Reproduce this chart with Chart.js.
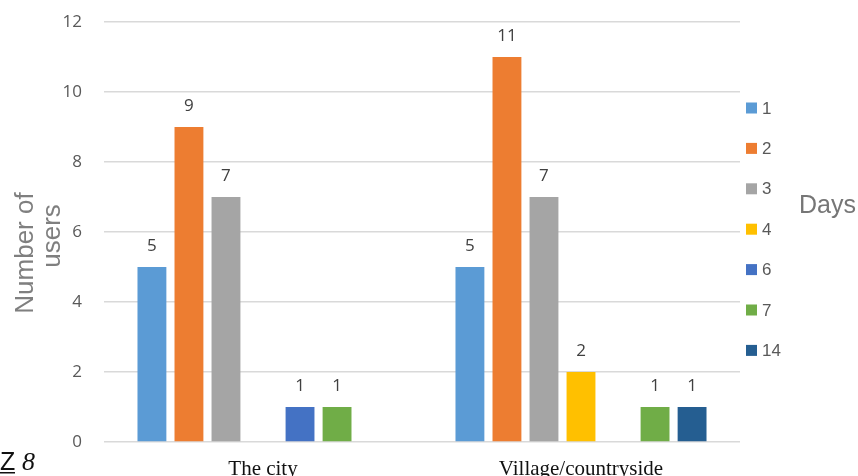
<!DOCTYPE html>
<html>
<head>
<meta charset="utf-8">
<script src="https://cdn.jsdelivr.net/npm/chart.js@4.4.0/dist/chart.umd.min.js"></script>
<style>
  html, body { margin: 0; padding: 0; background: #fff; }
  #wrap { width: 858px; height: 476px; position: relative; }
</style>
</head>
<body>
<div id="wrap"><canvas id="usersChart"></canvas></div>
<script>
// place of residence on the x axis, one series per number of days
const places = ['The city', 'Village/countryside'];
const dayLabels = ['1', '2', '3', '4', '6', '7', '14'];
const day1 = [5, 5];
const day2 = [9, 11];
const day3 = [7, 7];
const day4 = [null, 2];
const day6 = [1, null];
const day7 = [1, 1];
const day14 = [null, 1];
const yTicks = [0, 2, 4, 6, 8, 10, 12];

const dayColors = ['#5B9BD5', '#ED7D31', '#A5A5A5', '#FFC000', '#4472C4', '#70AD47', '#255E91'];
const series = [day1, day2, day3, day4, day6, day7, day14];

const datasets = series.map((values, i) => ({
    label: dayLabels[i],
    data: values,
    backgroundColor: dayColors[i],
    borderWidth: 0,
    categoryPercentage: 0.815,
    barPercentage: 0.78
}));

// value above every bar
const barValues = {
    id: 'barValues',
    afterDatasetsDraw(chart) {
        const ctx = chart.ctx;
        ctx.save();
        ctx.font = '17px "Open Sans"';
        ctx.fillStyle = '#404040';
        ctx.textAlign = 'center';
        ctx.textBaseline = 'middle';
        chart.data.datasets.forEach((ds, i) => {
            chart.getDatasetMeta(i).data.forEach((bar, j) => {
                if (ds.data[j] == null) return;
                ctx.fillText(String(ds.data[j]), bar.x, bar.y - 21);
            });
        });
        ctx.restore();
    }
};

// axis title, legend and the side captions
const decorations = {
    id: 'decorations',
    afterDraw(chart) {
        const ctx = chart.ctx;
        ctx.save();

        // y axis title, two rotated lines
        ctx.fillStyle = '#7f7f7f';
        ctx.font = '26px "Liberation Sans"';
        ctx.textAlign = 'center';
        ctx.textBaseline = 'alphabetic';
        ctx.save();
        ctx.translate(33, 253);
        ctx.rotate(-Math.PI / 2);
        ctx.fillText('Number of', 0, 0);
        ctx.restore();
        ctx.save();
        ctx.translate(60, 236);
        ctx.rotate(-Math.PI / 2);
        ctx.fillText('users', 0, 0);
        ctx.restore();

        // legend
        ctx.font = '17px "Liberation Sans"';
        ctx.textAlign = 'left';
        ctx.textBaseline = 'middle';
        dayLabels.forEach((lbl, i) => {
            const cy = 108 + i * 40.4;
            ctx.fillStyle = dayColors[i];
            ctx.fillRect(746, cy - 5.5, 11, 11);
            ctx.fillStyle = '#595959';
            ctx.fillText(lbl, 762, cy + 1);
        });

        // legend title
        ctx.fillStyle = '#767676';
        ctx.font = '25px "Liberation Sans"';
        ctx.textBaseline = 'alphabetic';
        ctx.fillText('Days', 799, 213);

        // stray caption at bottom left
        ctx.fillStyle = '#111';
        ctx.font = '25px "Liberation Sans"';
        ctx.fillText('Z', 0, 470);
        ctx.fillRect(0, 472, 15, 1.5);
        ctx.font = 'italic 26px "Liberation Serif"';
        ctx.fillText('8', 22, 470);

        ctx.restore();
    }
};

new Chart(document.getElementById('usersChart'), {
    type: 'bar',
    data: { labels: places, datasets: datasets },
    options: {
        responsive: true,
        maintainAspectRatio: false,
        animation: false,
        layout: { padding: { left: 0, right: 118, top: 22, bottom: 0 } },
        plugins: {
            legend: { display: false },
            tooltip: { enabled: false }
        },
        scales: {
            x: {
                grid: { display: false },
                border: { display: false },
                ticks: {
                    color: '#111',
                    font: { family: '"Liberation Serif"', size: 21 },
                    padding: 7
                },
                afterFit(scale) {
                    scale.height = 34;
                    scale.paddingLeft = 0;
                    scale.paddingRight = 0;
                }
            },
            y: {
                min: 0,
                max: 12,
                afterBuildTicks(scale) { scale.ticks = yTicks.map(v => ({ value: v })); },
                grid: { color: '#d9d9d9', lineWidth: 1.5, drawTicks: false },
                border: { display: false },
                ticks: {
                    color: '#595959',
                    font: { family: '"Open Sans"', size: 17 },
                    padding: 22
                },
                afterFit(scale) {
                    scale.width = 104;
                    scale.paddingTop = 0;
                    scale.paddingBottom = 0;
                }
            }
        }
    },
    plugins: [barValues, decorations]
});
</script>
</body>
</html>
